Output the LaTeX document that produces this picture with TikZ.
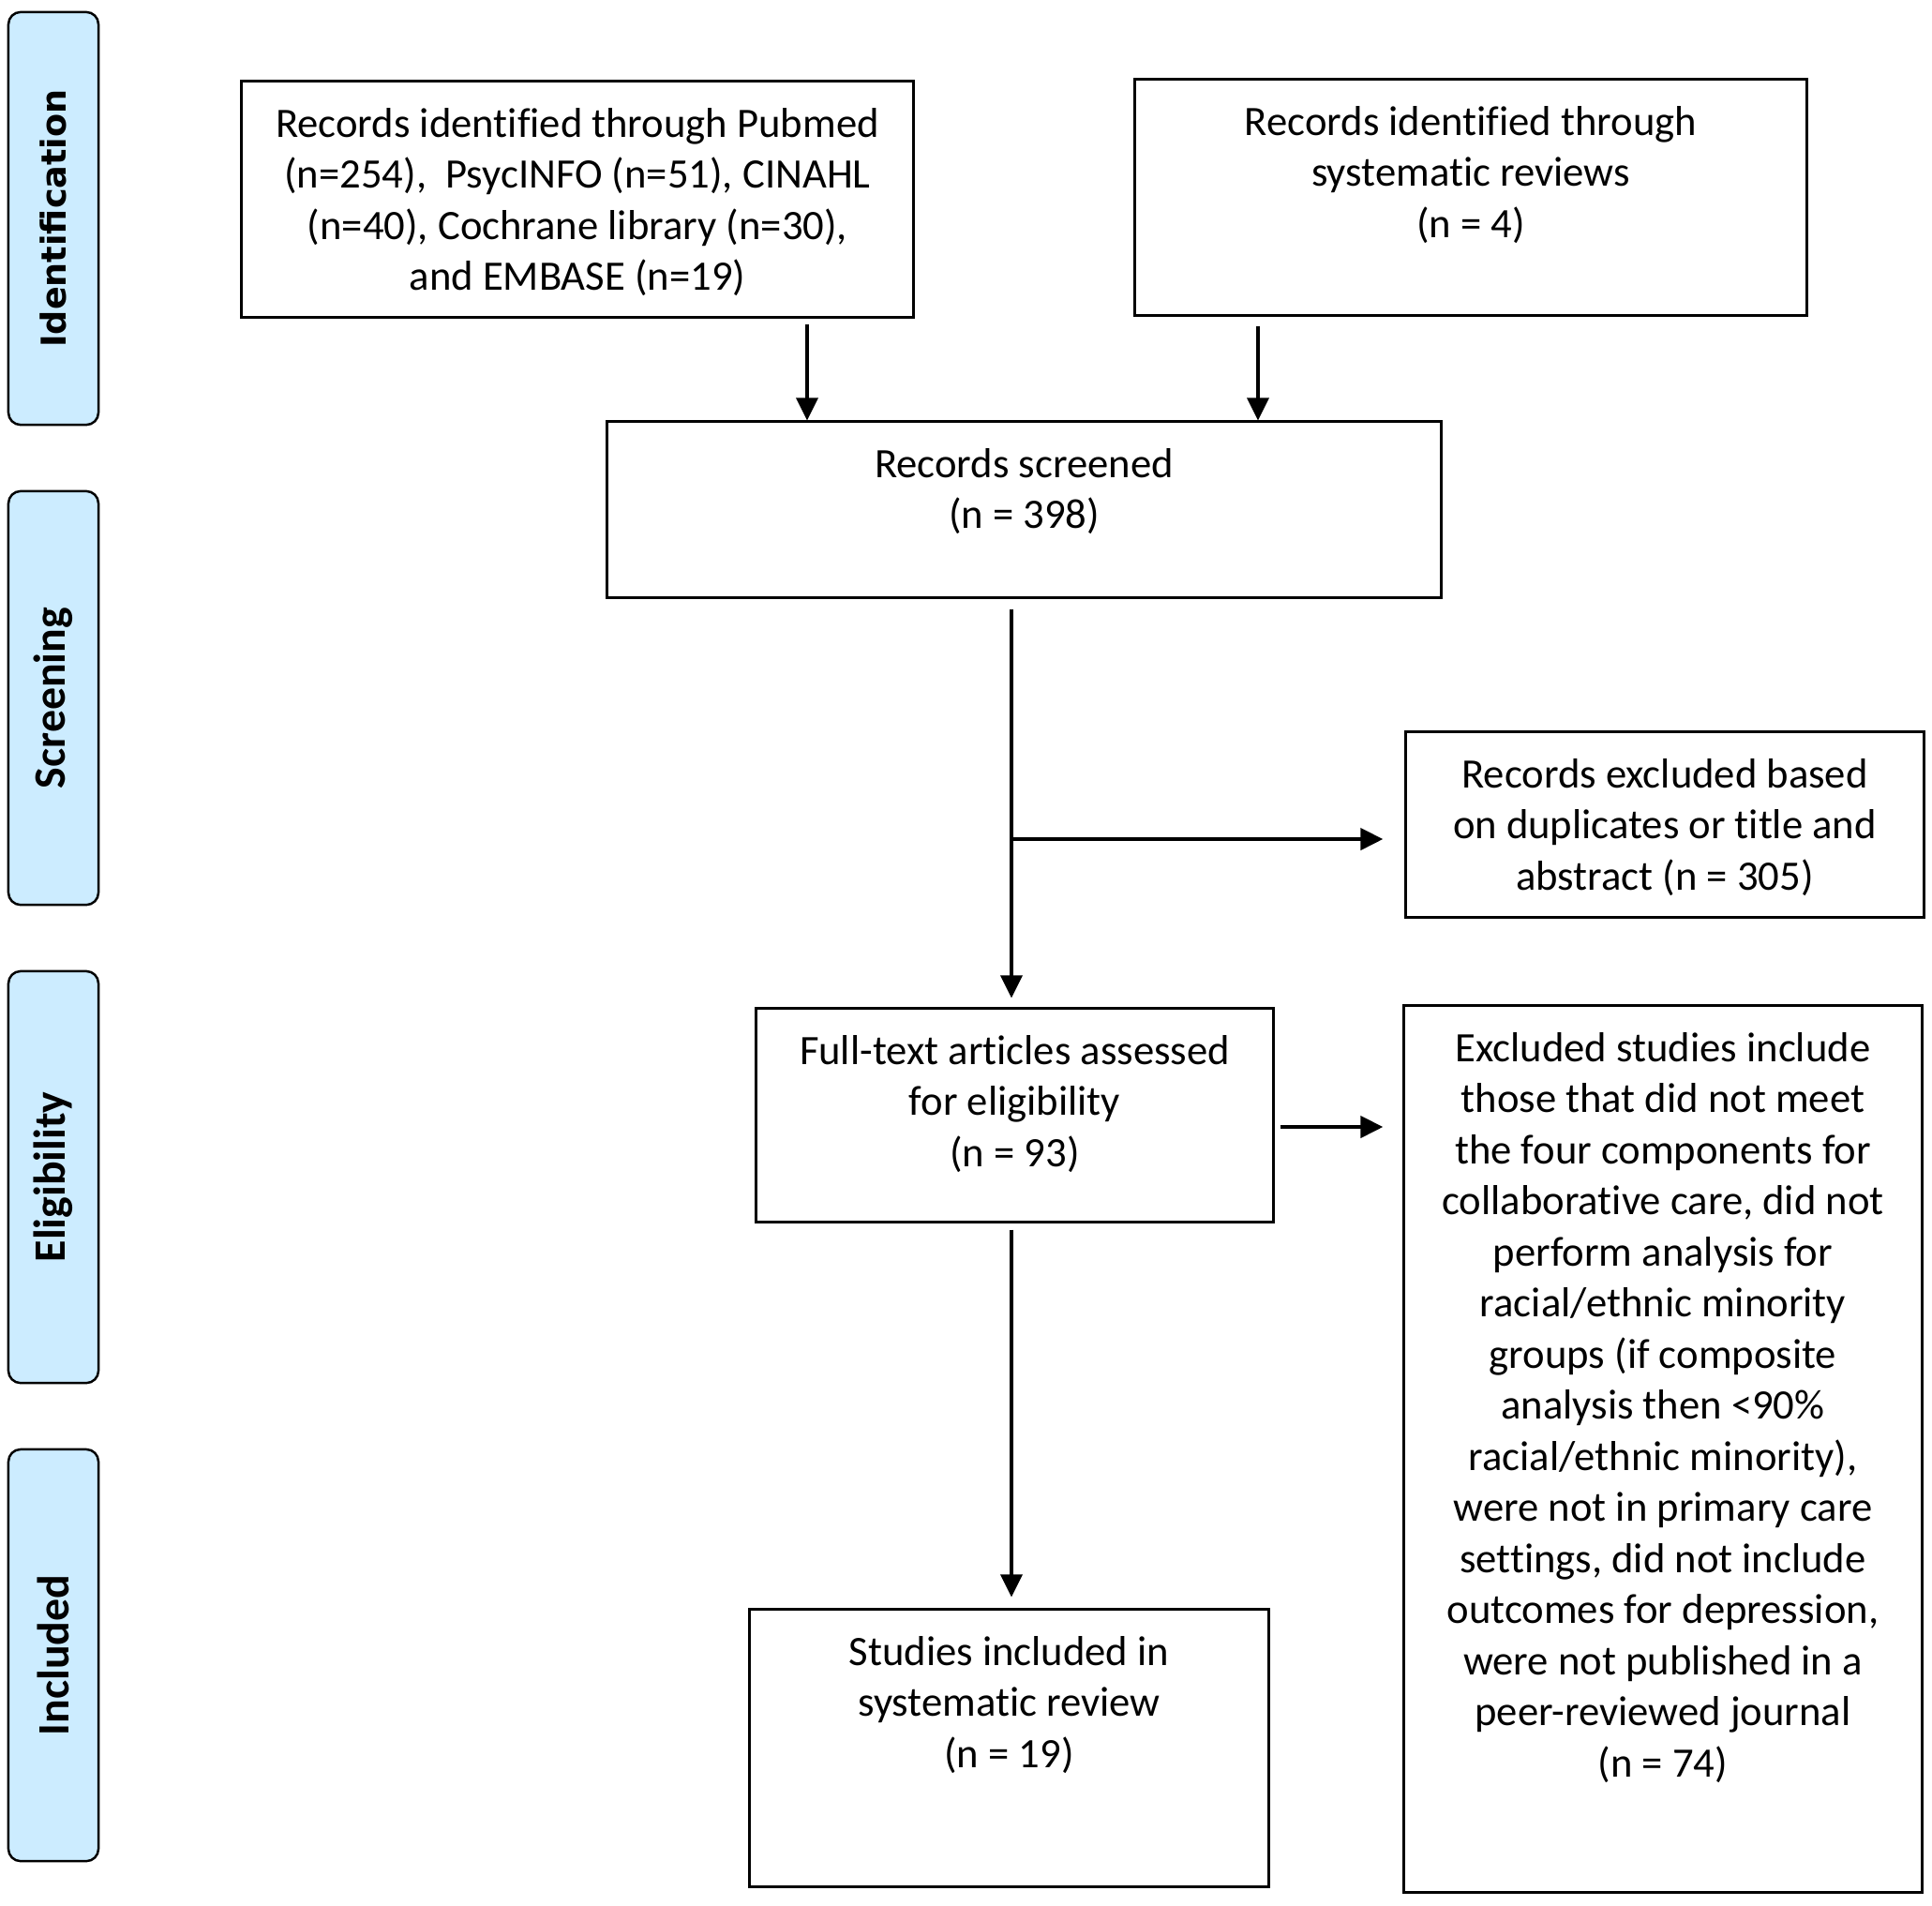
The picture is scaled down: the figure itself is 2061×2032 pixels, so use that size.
\documentclass[tikz,border=0pt]{standalone}
\usepackage{fontspec}
\setmainfont{Carlito}[Ligatures=NoCommon]
\newfontfamily\idfont{DejaVu Sans}
\usetikzlibrary{arrows.meta}
\definecolor{sidefill}{RGB}{204,236,255}
\begin{document}
\begin{tikzpicture}[x=0.01cm, y=-0.01cm,
  box/.style={draw, line width=0.85pt, inner sep=0pt},
  txt/.style={anchor=north, inner sep=0pt, align=center,
    font=\fontsize{12.7}{15.5}\selectfont, execute at begin node=\strut},
  side/.style={draw, line width=0.7pt, fill=sidefill, rounded corners=0.13cm,
    minimum width=0.96cm, inner sep=0pt},
  sidetxt/.style={rotate=90, inner sep=0pt, font=\bfseries\fontsize{13.6}{16}\selectfont},
  arr/.style={-{Triangle[length=0.24cm,width=0.23cm]}, line width=1pt}]

\useasboundingbox (0,0) rectangle (2061,2032);

% side phase labels
\node[side, minimum height=4.40cm] (s1) at (57,233) {};
\node[sidetxt, font=\idfont\bfseries\fontsize{10.4}{12}\selectfont] (l1) at (s1.center) {Identification};
\node[side, minimum height=4.41cm] (s2) at (57,744.5) {};
\node[sidetxt] (l2) at (s2.center) {Screening};
\node[side, minimum height=4.39cm] (s3) at (57,1255.5) {};
\node[sidetxt] (l3) at (s3.center) {Eligibility};
\node[side, minimum height=4.39cm] (s4) at (57,1765.5) {};
\node[sidetxt] (l4) at (s4.center) {Included};

% boxes
\node[box, minimum width=7.16cm, minimum height=2.51cm] (b1) at (616,212.5) {};
\node[box, minimum width=7.16cm, minimum height=2.51cm] (b2) at (1569,210.5) {};
\node[box, minimum width=8.89cm, minimum height=1.87cm] (b3) at (1092.5,543.5) {};
\node[box, minimum width=5.52cm, minimum height=1.97cm] (b4) at (1776,879.5) {};
\node[box, minimum width=5.51cm, minimum height=2.27cm] (b5) at (1082.5,1189.5) {};
\node[box, minimum width=5.52cm, minimum height=9.45cm] (b6) at (1774,1545.5) {};
\node[box, minimum width=5.53cm, minimum height=2.95cm] (b7) at (1076.5,1864.5) {};

% texts
\node[txt] (t1) at ([yshift=-0.29cm]b1.north) {Records identified through Pubmed\\(n=254),\ \ PsycINFO (n=51), CINAHL\\(n=40), Cochrane library (n=30),\\and EMBASE (n=19)};
\node[txt] (t2) at ([yshift=-0.29cm]b2.north) {Records identified through\\systematic reviews\\(n = 4)};
\node[txt] (t3) at ([yshift=-0.29cm]b3.north) {Records screened\\(n = 398)};
\node[txt] (t4) at ([yshift=-0.29cm]b4.north) {Records excluded based\\on duplicates or title and\\abstract (n = 305)};
\node[txt] (t5) at ([yshift=-0.29cm]b5.north) {Full-text articles assessed\\for eligibility\\(n = 93)};
\node[txt] (t6) at ([yshift=-0.29cm]b6.north) {Excluded studies include\\those that did not meet\\the four components for\\collaborative care, did not\\perform analysis for\\racial/ethnic minority\\groups (if composite\\analysis then <90\%\\racial/ethnic minority),\\were not in primary care\\settings, did not include\\outcomes for depression,\\were not published in a\\peer-reviewed journal\\(n = 74)};
\node[txt] (t7) at ([yshift=-0.29cm]b7.north) {Studies included in\\systematic review\\(n = 19)};

% connectors
\coordinate (xL) at (861,0);
\coordinate (xR) at (1342,0);
\coordinate (xM) at (1079,0);
\coordinate (yB) at (0,895);
\coordinate (yE) at (0,1202);
\draw[arr] ([yshift=-0.06cm]b1.south -| xL) -- (b3.north -| xL);
\draw[arr] ([yshift=-0.10cm]b2.south -| xR) -- (b3.north -| xR);
\draw[arr] ([yshift=-0.11cm]b3.south -| xM) -- ([yshift=0.10cm]b5.north -| xM);
\coordinate (br) at (xM |- yB);
\draw[arr, line width=1.2pt] (br) -- ([xshift=-0.23cm]b4.west |- yB);
\draw[arr, line width=1.2pt] ([xshift=0.06cm]b5.east |- yE) -- ([xshift=-0.21cm]b6.west |- yE);
\draw[arr] ([yshift=-0.07cm]b5.south -| xM) -- ([yshift=0.12cm]b7.north -| xM);
\end{tikzpicture}
\end{document}
